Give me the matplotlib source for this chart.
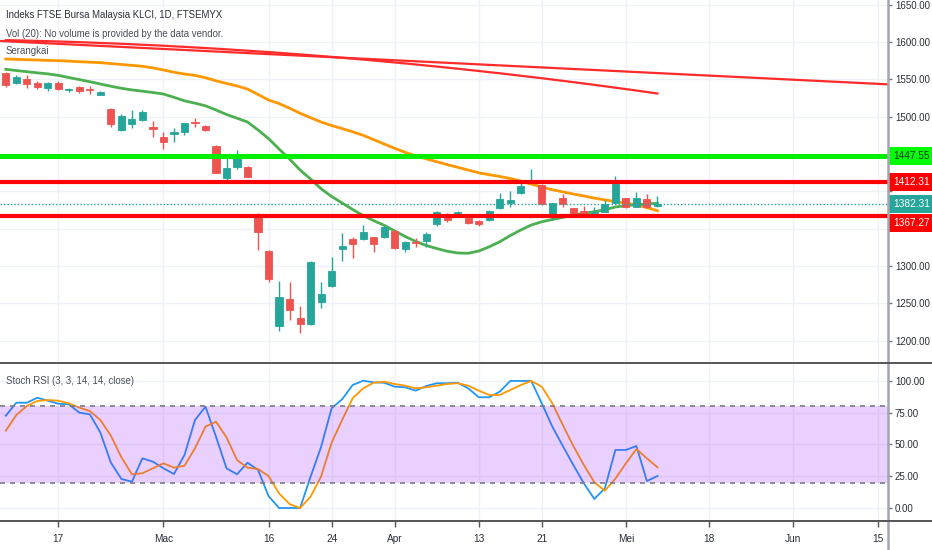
import matplotlib
matplotlib.use('Agg')
import matplotlib.pyplot as plt
from matplotlib.patches import Rectangle
from matplotlib.lines import Line2D
from matplotlib.transforms import blended_transform_factory
import numpy as np

plt.rcParams['font.family'] = ['Liberation Sans', 'DejaVu Sans']

# ---------------- data ----------------
opens = [1558.1, 1545.5, 1550.4, 1545.5, 1538.8, 1544.7, 1535.5, 1540.1, 1537.4, 1529.0,
         1509.8, 1481.7, 1489.7, 1495.5, 1486.5, 1472.3, 1476.7, 1479.8, 1493.2, 1487.9,
         1461.1, 1417.4, 1432.1, 1432.1, 1365.1, 1320.4, 1219.5, 1255.7, 1230.6, 1221.8,
         1251.2, 1273.5, 1322.7, 1335.6, 1336.0, 1338.3, 1338.3, 1346.8, 1322.3, 1331.5,
         1333.8, 1355.7, 1369.1, 1370.5, 1363.8, 1360.2, 1361.5, 1377.2, 1383.9, 1397.3,
         1412.8, 1408.4, 1367.3, 1390.6, 1377.2, 1373.5, 1371.2, 1372.6, 1383.9, 1390.6,
         1379.4, 1389.2, 1380.3]
highs = [1559.4, 1555.8, 1556.2, 1547.4, 1546.4, 1547.4, 1538.0, 1541.1, 1541.0, 1534.8,
         1511.2, 1503.1, 1508.9, 1508.9, 1494.6, 1479.8, 1484.4, 1491.9, 1497.8, 1488.8,
         1462.0, 1447.7, 1455.3, 1433.9, 1370.5, 1321.3, 1280.2, 1278.0, 1245.8, 1306.6,
         1278.0, 1312.3, 1343.7, 1338.3, 1354.8, 1339.1, 1353.4, 1348.2, 1333.3, 1337.0,
         1345.9, 1374.0, 1370.5, 1373.5, 1365.1, 1361.5, 1374.9, 1397.3, 1400.8, 1415.1,
         1429.9, 1409.3, 1384.7, 1396.0, 1377.9, 1380.8, 1379.4, 1388.3, 1420.9, 1391.5,
         1398.6, 1396.0, 1394.0]
lows = [1539.3, 1543.7, 1538.0, 1536.7, 1534.8, 1536.1, 1532.6, 1531.3, 1530.8, 1528.6,
        1486.5, 1480.8, 1485.2, 1494.6, 1473.1, 1456.2, 1466.4, 1475.0, 1486.5, 1480.4,
        1424.0, 1415.1, 1429.4, 1419.0, 1321.3, 1278.8, 1213.2, 1227.5, 1209.7, 1220.8,
        1243.2, 1272.1, 1306.6, 1311.0, 1334.7, 1319.0, 1337.4, 1322.3, 1318.3, 1325.7,
        1325.7, 1353.4, 1359.2, 1369.1, 1356.1, 1353.4, 1360.2, 1376.3, 1379.4, 1395.9,
        1412.0, 1381.6, 1361.5, 1379.4, 1368.2, 1369.1, 1369.1, 1371.8, 1383.0, 1378.0,
        1378.5, 1377.2, 1379.0]
closes = [1542.4, 1552.7, 1543.7, 1540.1, 1545.5, 1537.0, 1536.8, 1534.4, 1535.3, 1532.6,
          1489.7, 1500.9, 1496.4, 1505.8, 1483.0, 1466.4, 1479.8, 1491.1, 1491.1, 1482.1,
          1424.9, 1430.8, 1444.2, 1419.5, 1345.8, 1282.5, 1258.7, 1240.9, 1221.8, 1304.8,
          1261.9, 1292.8, 1326.7, 1329.4, 1345.0, 1329.4, 1352.5, 1323.6, 1332.4, 1330.2,
          1342.8, 1371.8, 1361.5, 1372.6, 1357.9, 1356.6, 1373.5, 1389.2, 1388.3, 1407.5,
          1415.1, 1382.5, 1383.9, 1382.5, 1369.1, 1370.5, 1372.6, 1382.5, 1409.7, 1379.4,
          1390.6, 1378.5, 1382.31]

ma_red = [1602.5, 1602.2, 1601.9, 1601.5, 1601.1, 1600.7, 1600.3, 1599.8, 1599.3, 1598.7,
          1598.2, 1597.6, 1597.0, 1596.3, 1595.7, 1595.0, 1594.2, 1593.5, 1592.7, 1591.9,
          1591.1, 1590.2, 1589.3, 1588.4, 1587.4, 1586.5, 1585.5, 1584.4, 1583.4, 1582.3,
          1581.2, 1580.1, 1578.9, 1577.7, 1576.5, 1575.2, 1573.9, 1572.6, 1571.3, 1569.9,
          1568.5, 1567.1, 1565.7, 1564.2, 1562.7, 1561.2, 1559.6, 1558.1, 1556.5, 1554.8,
          1553.1, 1551.5, 1549.7, 1548.0, 1546.2, 1544.4, 1542.6, 1540.7, 1538.8, 1536.9,
          1535.0, 1533.0, 1531.0]
ma_orange = [1577.2, 1576.8, 1576.3, 1575.9, 1575.4, 1575.0, 1574.4, 1573.6, 1573.0, 1572.3,
             1571.1, 1569.9, 1568.7, 1567.5, 1565.3, 1562.5, 1559.5, 1557.1, 1555.3, 1552.2,
             1548.0, 1544.5, 1541.1, 1537.0, 1529.7, 1522.3, 1517.5, 1511.3, 1504.5, 1498.6,
             1492.8, 1488.1, 1484.0, 1479.7, 1475.0, 1469.2, 1463.3, 1457.6, 1452.2, 1447.3,
             1443.5, 1439.6, 1435.7, 1432.1, 1428.4, 1424.7, 1422.2, 1419.8, 1417.1, 1413.6,
             1409.6, 1405.7, 1402.0, 1399.2, 1396.3, 1393.7, 1390.8, 1388.4, 1386.2, 1384.1,
             1381.6, 1378.1, 1374.0]
ma_green = [1563.4, 1561.8, 1560.2, 1558.7, 1557.3, 1555.3, 1552.4, 1549.6, 1546.8, 1543.7,
            1540.7, 1538.0, 1535.8, 1534.1, 1532.3, 1530.3, 1525.9, 1521.2, 1518.0, 1514.5,
            1508.9, 1502.9, 1497.9, 1492.8, 1482.1, 1470.6, 1456.6, 1443.2, 1428.5, 1416.4,
            1403.3, 1393.0, 1384.3, 1375.6, 1367.5, 1360.6, 1354.4, 1346.8, 1339.4, 1332.7,
            1327.3, 1323.3, 1319.6, 1317.3, 1316.9, 1319.9, 1325.6, 1332.3, 1340.7, 1348.1,
            1354.8, 1359.1, 1362.2, 1365.1, 1368.2, 1370.5, 1372.6, 1375.3, 1378.9, 1380.7,
            1381.9, 1383.0, 1383.9]

# trend line through two anchor points (bar index, price)
trend_bars = [0, 80]
trend_prices = [1601.0, 1546.0]

level_green = 1447.55
levels_red = [1412.31, 1367.27]

stoch_k = [72.5, 82.7, 82.7, 86.6, 84.3, 81.9, 81.4, 74.9, 73.6, 59.2,
           35.6, 22.8, 20.7, 39.0, 36.4, 31.2, 26.7, 41.6, 69.1, 79.6,
           56.0, 31.2, 26.5, 35.6, 29.9, 9.4, 0.0, 0.0, 0.0, 24.6,
           48.0, 78.3, 85.4, 96.6, 100.0, 98.7, 98.4, 95.3, 94.8, 92.2,
           95.8, 98.0, 98.0, 98.4, 94.0, 87.0, 87.0, 91.4, 99.8, 99.8,
           99.8, 82.2, 63.9, 48.7, 33.8, 19.4, 7.1, 15.5, 45.6, 45.6,
           48.7, 21.2, 25.1]
stoch_d = [60.7, 73.1, 80.1, 84.1, 84.8, 84.3, 82.2, 78.8, 76.2, 69.1,
           56.8, 39.8, 26.5, 27.3, 31.2, 35.1, 31.7, 33.2, 46.9, 63.9,
           67.8, 55.5, 37.7, 31.7, 30.6, 25.1, 11.5, 3.1, 0.0, 8.9,
           24.8, 51.3, 69.1, 86.2, 94.0, 98.4, 99.2, 97.4, 96.1, 94.0,
           94.8, 96.1, 97.4, 98.0, 96.1, 92.2, 88.8, 88.8, 92.7, 96.6,
           99.8, 95.3, 82.2, 65.2, 48.7, 33.8, 20.2, 13.6, 23.0, 35.1,
           46.3, 39.0, 32.0]

time_tick_pos = [5, 15, 25, 31, 37, 45, 51, 59, 66.94, 74.93, 83.02]
time_tick_labels = ['17', 'Mac', '16', '24', 'Apr', '13', '21', 'Mei', '18', 'Jun', '15']
price_ticks = [1200, 1250, 1300, 1350, 1400, 1450, 1500, 1550, 1600, 1650]
price_hidden = [1350, 1400, 1450]   # labels covered by the level boxes
rsi_ticks = [0, 25, 50, 75, 100]

# ---------------- figure ----------------
W, H = 932, 550
fig = plt.figure(figsize=(W / 100, H / 100), dpi=100)
fig.patch.set_facecolor('white')

axr = 888 / W
ax = fig.add_axes([0, 1 - 362 / H, axr, 362 / H])
ax2 = fig.add_axes([0, 1 - 521 / H, axr, 158 / H], sharex=ax)

GRID = '#EEF1F7'
TXT = '#2A2E39'
UP = '#26A69A'
DN = '#EF5350'
FS_AX = 7.0
FS_HEAD = 6.9

o = np.array(opens); h = np.array(highs); l = np.array(lows); c = np.array(closes)
x = np.arange(len(o))
cols = np.where(c >= o, UP, DN)

for a in (ax, ax2):
    a.set_facecolor('white')
    for s in a.spines.values():
        s.set_visible(False)
    a.yaxis.tick_right()
    a.set_xticks(time_tick_pos)
    a.grid(True, color=GRID, lw=1, zorder=0)
    a.set_axisbelow(True)
    a.tick_params(axis='y', which='both', length=3, width=1, color='#777', pad=2,
                  labelsize=FS_AX, labelcolor=TXT)

ax.set_xlim(-0.552, 83.94)
ax.set_ylim(1171.2, 1656.3)
ax.set_yticks(price_ticks)
ax.set_yticklabels(['' if v in price_hidden else f'{v:.2f}' for v in price_ticks])
ax.tick_params(axis='x', length=0, labelbottom=False)

# moving averages & trend line
ax.plot(x, ma_orange, color='#FF9800', lw=2, zorder=3)
ax.plot(x, ma_green, color='#4CAF50', lw=2, zorder=3)
ax.plot(x, ma_red, color='#FF2A2A', lw=1.6, zorder=3)
ax.axline((trend_bars[0], trend_prices[0]), (trend_bars[1], trend_prices[1]),
          color='#FF2A2A', lw=1.6, zorder=3)

# candles
ax.vlines(x, l, h, colors=cols, lw=1, zorder=4)
body_lo = np.minimum(o, c)
body_h = np.maximum(np.abs(c - o), 1.3)
ax.bar(x, body_h, bottom=body_lo, width=0.68, color=cols, edgecolor=cols, lw=0.6, zorder=5)

# horizontal levels
ax.axhline(level_green, color='#00EE00', lw=3.6, zorder=6)
for lv in levels_red:
    ax.axhline(lv, color='#FF0000', lw=3, zorder=6)
ax.axhline(closes[-1], color=UP, lw=1, ls=(0, (1, 1.5)), zorder=6)

# price-scale labels
bt = blended_transform_factory(ax.transAxes, ax.transData)
box_h = 24.1
labels = [(level_green, '#00FF00', '#2A2E39', 0.0),
          (levels_red[0], '#FF0000', 'white', 0.0),
          (closes[-1], UP, 'white', 0.0),
          (levels_red[1], '#FF0000', 'white', -9.5)]
for val, fc, tc, off in labels:
    yc = val + off
    ax.add_patch(Rectangle((1.0, yc - box_h / 2), 0.06, box_h, transform=bt,
                           facecolor=fc, edgecolor='none', clip_on=False, zorder=20))
    ax.text(1.0 + 5 / 888, yc, f'{val:.2f}', transform=bt, ha='left', va='center',
            fontsize=FS_AX + 0.3, color=tc, clip_on=False, zorder=21)

# ---------------- stoch RSI pane ----------------
ax2.set_ylim(-10.2, 113.9)
ax2.set_yticks(rsi_ticks)
ax2.set_yticklabels([f'{v:.2f}' for v in rsi_ticks])
ax2.plot(x, stoch_k, color='#2196F3', lw=1.3, zorder=3)
ax2.plot(x, stoch_d, color='#FF9800', lw=1.3, zorder=3)
ax2.axhspan(20, 80, facecolor='#9915FF', alpha=0.2, lw=0, zorder=4)
for lv in (80, 20):
    ax2.axhline(lv, color='#787B86', lw=1.2, ls=(0, (3, 3)), zorder=5)
ax2.set_xticklabels(time_tick_labels)
ax2.tick_params(axis='x', length=4, width=1, color='#555', pad=5, labelsize=FS_AX + 0.3,
                labelcolor=TXT)

# frame lines
fig.add_artist(Line2D([axr, axr], [0, 1], transform=fig.transFigure, color='#A3A6AF', lw=1.8))
fig.add_artist(Line2D([0, 1], [1 - 362.5 / H] * 2, transform=fig.transFigure, color='#555', lw=1.4))
fig.add_artist(Line2D([0, 1], [1 - 521 / H] * 2, transform=fig.transFigure, color='#555', lw=1.4))

# legends / titles
def ftext(px, py, s, **kw):
    fig.text(px / W, 1 - py / H, s, ha='left', va='center', **kw)

ftext(6, 15, 'Indeks FTSE Bursa Malaysia KLCI, 1D, FTSEMYX', fontsize=FS_HEAD, color=TXT)
ftext(6, 34, 'Vol (20): No volume is provided by the data vendor.', fontsize=FS_HEAD, color='#4A4E59')
ftext(6, 51, 'Serangkai', fontsize=FS_HEAD, color='#4A4E59')
ftext(6, 381, 'Stoch RSI (3, 3, 14, 14, close)', fontsize=FS_HEAD, color='#4A4E59')

fig.savefig('out.png', dpi=100, facecolor='white')
